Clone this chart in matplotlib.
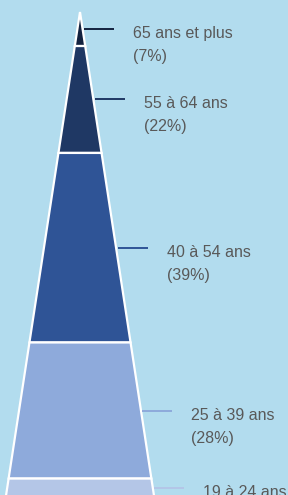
import matplotlib.pyplot as plt
from matplotlib.patches import Polygon

# data (top of pyramid first)
labels = ['65 ans et plus', '55 à 64 ans', '40 à 54 ans', '25 à 39 ans', '19 à 24 ans']
shares = [7, 22, 39, 28, 4]
colors = ['#13223f', '#1f3864', '#2f5496', '#8eaadb', '#b4c6e7']

# layout (pixels)
W, H = 288, 495
apex_x, apex_y = 80, 12
px_per_pct = 4.86
slope = 0.153          # half width per pixel of height
bg = '#b2dcee'
txt_col = '#595959'

fig = plt.figure(figsize=(W / 100, H / 100), dpi=100)
fig.patch.set_facecolor(bg)
ax = fig.add_axes([0, 0, 1, 1])
ax.set_xlim(0, W)
ax.set_ylim(H, 0)
ax.axis('off')

def half(y):
    return (y - apex_y) * slope

top = apex_y
for lab, v, c in zip(labels, shares, colors):
    bot = top + v * px_per_pct
    pts = [(apex_x - half(top), top), (apex_x + half(top), top),
           (apex_x + half(bot), bot), (apex_x - half(bot), bot)]
    ax.add_patch(Polygon(pts, closed=True, facecolor=c, edgecolor='white',
                         linewidth=1.6, joinstyle='miter'))

    # leader line + label
    ym = (top + bot) / 2
    x0 = apex_x + half(ym) + 1.5
    x1 = x0 + 30
    ax.plot([x0, x1], [ym, ym], color=c, lw=1.4, solid_capstyle='butt')
    ax.text(x1 + 19, ym - 3, lab, ha='left', va='top', color=txt_col,
            fontsize=11.5, family='Liberation Sans')
    ax.text(x1 + 19, ym + 20, '(%d%%)' % v, ha='left', va='top', color=txt_col,
            fontsize=11.5, family='Liberation Sans')
    top = bot

fig.savefig('out.png', dpi=100, facecolor=bg)
